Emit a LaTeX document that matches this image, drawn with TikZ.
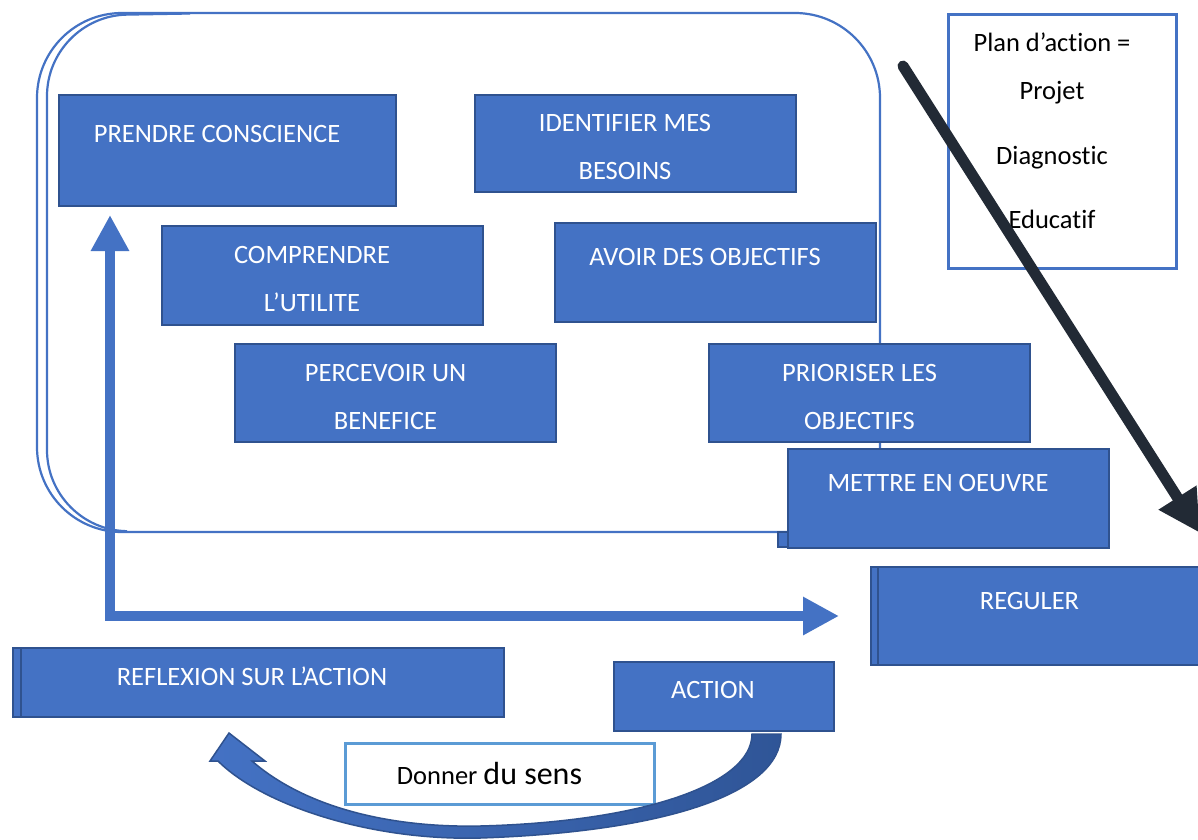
\documentclass[tikz,border=0pt]{standalone}
\usepackage{fontspec}
\setmainfont{Carlito}[Ligatures=NoCommon]
\usetikzlibrary{arrows.meta,positioning,calc}

\definecolor{boxblue}{HTML}{4472C4}
\definecolor{boxedge}{HTML}{2F528F}
\definecolor{bendblue}{HTML}{2F5597}
\definecolor{framelight}{HTML}{5B9BD5}
\definecolor{inkdark}{HTML}{222A35}

\begin{document}
\begin{tikzpicture}[
    x=1pt, y=-1pt,
    box/.style={draw=boxedge, fill=boxblue, line width=2pt, rectangle, inner sep=0pt, anchor=north west},
    whitebox/.style={draw=boxblue, fill=white, line width=2.5pt, rectangle, inner sep=0pt, anchor=north west},
    container/.style={draw=boxblue, line width=2.2pt, rounded corners=85pt},
    edgeline/.style={draw=boxedge, line width=2pt},
    boxtext/.style={text=white, inner sep=0pt, align=center, font=\fontsize{26.5}{48}\selectfont},
    plaintext/.style={text=black, inner sep=0pt, anchor=base, font=\fontsize{26.5}{32}\selectfont},
    bluearrow/.style={draw=boxblue, line width=10pt, line cap=rect, -{Triangle[length=36pt, width=36pt]}},
    darkarrow/.style={draw=inkdark, line width=11pt, line cap=round, -{Triangle[length=42pt, width=42pt]}}
]
    \useasboundingbox (0,0) rectangle (1198,839);
    \fill[white] (0,0) rectangle (1198,839);

    % 1. Container (double outline on the left)
    \draw[container] (37,13) rectangle (880,532);
    \draw[container, rounded corners=80pt] (190,13.5) -- (47,16) -- (47,530) -- (115,531);

    % 2. Boxes inside the container
    \node[box, minimum width=337pt, minimum height=111pt] (prendre) at (58,94) {};
    \node[box, minimum width=321pt, minimum height=97pt] (identifier) at (474,94) {};
    \node[box, minimum width=321pt, minimum height=99pt] (comprendre) at (161,225) {};
    \node[box, minimum width=321pt, minimum height=99pt] (avoir) at (554,222) {};
    \node[box, minimum width=321pt, minimum height=98pt] (percevoir) at (234,343) {};
    \node[box, minimum width=321pt, minimum height=98pt] (prioriser) at (708,343) {};

    % 3. Boxes of the cycle
    \draw[edgeline, fill=boxblue] (778,532) rectangle (790,547);
    \node[box, minimum width=321pt, minimum height=99pt] (mettre) at (787,448) {};
    \node[box, minimum width=330pt, minimum height=98pt] (reguler) at (870,566) {};
    \draw[edgeline] ([xshift=8pt]reguler.north west) -- ([xshift=8pt]reguler.south west);
    \node[box, minimum width=491pt, minimum height=69pt] (reflexion) at (12,647) {};
    \draw[edgeline] ([xshift=9pt]reflexion.north west) -- ([xshift=9pt]reflexion.south west);
    \node[box, minimum width=220pt, minimum height=69pt] (action) at (613,661) {};
    \node[whitebox, draw=framelight, line width=3pt, minimum width=309pt, minimum height=61pt] (donner) at (344,742) {};
    \node[whitebox, minimum width=228pt, minimum height=254pt] (plan) at (947,13) {};

    % 4. Texts
    \node[boxtext, anchor=base] (t-prendre) at (217,142.5) {PRENDRE CONSCIENCE};
    \node[boxtext] (t-identifier) at (625,147) {IDENTIFIER MES\\BESOINS};
    \node[boxtext] (t-comprendre) at (312,279) {COMPRENDRE\\L’UTILITE};
    \node[boxtext, anchor=base] (t-avoir) at (705,265.5) {AVOIR DES OBJECTIFS};
    \node[boxtext] (t-percevoir) at (385.5,397) {PERCEVOIR UN\\BENEFICE};
    \node[boxtext] (t-prioriser) at (859.5,397) {PRIORISER LES\\OBJECTIFS};
    \node[boxtext, anchor=base] (t-mettre) at (938,491.5) {METTRE EN OEUVRE};
    \node[boxtext, anchor=base] (t-reguler) at (1029.5,609.5) {REGULER};
    \node[boxtext, anchor=base] (t-reflexion) at (252,685.5) {REFLEXION SUR L’ACTION};
    \node[boxtext, anchor=base] (t-action) at (713,698.5) {ACTION};
    \node[plaintext] (t-donner) at (489.5,784) {Donner {\fontsize{32}{38}\selectfont du sens}};
    \node[plaintext] (t-plan) at (1052,51.5) {Plan d’action =};
    \node[plaintext] (t-projet) at (1052,99.5) {Projet};
    \node[plaintext] (t-diagnostic) at (1052,164.5) {Diagnostic};
    \node[plaintext] (t-educatif) at (1052,228.5) {Educatif};

    % 5. Connections
    \coordinate (corner) at (110,616);
    \draw[bluearrow, shorten >=8pt] (corner) -- (corner |- prendre.south);
    \draw[bluearrow, shorten >=31pt] (corner) -- (corner -| reguler.west);

    \coordinate (diag-start) at (903,66);
    \coordinate (diag-end) at (1200,533);
    \draw[darkarrow] (diag-start) -- (diag-end);

    % Curved arrow from action back to reflexion
    \shadedraw[left color=boxblue, right color=bendblue, draw=boxedge, line width=1.5pt]
        (781,734) .. controls (781,795) and (660,832) .. (480,838)
        .. controls (370,841) and (262,805) .. (218,761)
        -- (210,761) -- (229,733) -- (265,761) -- (252,761)
        .. controls (300,803) and (380,828) .. (480,826)
        .. controls (640,822) and (752,785) .. (752,734) -- cycle;

\end{tikzpicture}
\end{document}
